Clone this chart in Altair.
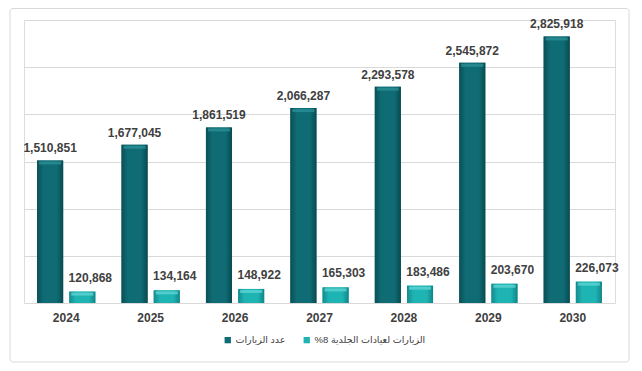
import altair as alt
import pandas as pd

years = ["2024", "2025", "2026", "2027", "2028", "2029", "2030"]
visits = [1510851, 1677045, 1861519, 2066287, 2293578, 2545872, 2825918]
derm_visits = [120868, 134164, 148922, 165303, 183486, 203670, 226073]
s_dark = "عدد الزيارات"
s_light = "%8 الزيارات لعيادات الجلدية"
series_order = [s_dark, s_light]

rows = []
for y, a, b in zip(years, visits, derm_visits):
    rows.append({"year": y, "series": s_dark, "value": a})
    rows.append({"year": y, "series": s_light, "value": b})
df = pd.DataFrame(rows)

FONT = "Liberation Sans, Arial, DejaVu Sans"
W, H = 591, 283

grad_dark = alt.Gradient(
    gradient="linear", x1=0, x2=1, y1=0, y2=0,
    stops=[alt.GradientStop(offset=0, color="#0a4f56"),
           alt.GradientStop(offset=0.25, color="#0f6c74"),
           alt.GradientStop(offset=0.75, color="#0f6c74"),
           alt.GradientStop(offset=1, color="#094a50")])
grad_light = alt.Gradient(
    gradient="linear", x1=0, x2=1, y1=0, y2=0,
    stops=[alt.GradientStop(offset=0, color="#138c8e"),
           alt.GradientStop(offset=0.25, color="#1fb4b4"),
           alt.GradientStop(offset=0.75, color="#1fb4b4"),
           alt.GradientStop(offset=1, color="#128587")])

base = alt.Chart(df).encode(
    x=alt.X("year:N", sort=years,
            scale=alt.Scale(paddingInner=0.31, paddingOuter=0.155),
            axis=alt.Axis(title=None, ticks=False, domain=False,
                          labelFont=FONT, labelFontSize=12, labelFontWeight="bold",
                          labelColor="#404040", labelPadding=9, labelAngle=0)),
    xOffset=alt.XOffset("series:N", sort=series_order,
                        scale=alt.Scale(paddingInner=0.19)),
    y=alt.Y("value:Q",
            scale=alt.Scale(domain=[0, 3000000], nice=False),
            axis=alt.Axis(title=None, labels=False, ticks=False, domain=False,
                          grid=True, gridColor="#d9d9d9", gridWidth=1,
                          values=[0, 500000, 1000000, 1500000, 2000000, 2500000, 3000000])),
)

bars_legend = base.mark_bar().encode(
    color=alt.Color("series:N", sort=series_order,
                    scale=alt.Scale(domain=series_order, range=["#0f6c74", "#1fb4b4"]),
                    legend=alt.Legend(title=None, orient="none", direction="horizontal",
                                      legendX=199, legendY=315,
                                      symbolType="square", symbolSize=40,
                                      symbolStrokeWidth=0,
                                      labelFont=FONT, labelFontSize=9.5,
                                      labelColor="#404040", labelOffset=3,
                                      columnPadding=16, labelLimit=300))
)

bars_grad = base.mark_bar().encode(
    fill=alt.condition(alt.datum.series == s_dark, alt.value(grad_dark), alt.value(grad_light))
)

bevel = base.mark_tick(thickness=3, size=22, yOffset=2.5, opacity=0.8).encode(
    color=alt.condition(alt.datum.series == s_dark, alt.value("#2a8f96"), alt.value("#5fd3d3"))
)

labels_dark = base.transform_filter(alt.datum.series == s_dark).mark_text(
    baseline="bottom", dy=-5, font=FONT, fontSize=12, fontWeight="bold", color="#404040"
).encode(text=alt.Text("value:Q", format=","))

labels_light = base.transform_filter(alt.datum.series == s_light).mark_text(
    baseline="bottom", dy=-7, dx=8, font=FONT, fontSize=12, fontWeight="bold", color="#404040"
).encode(text=alt.Text("value:Q", format=","))

border = alt.Chart(pd.DataFrame({"a": [0]})).mark_rect(
    fill="transparent", stroke="#d9d9d9", strokeWidth=1, cornerRadius=3
).encode(x=alt.value(-14), x2=alt.value(605), y=alt.value(-11.5), y2=alt.value(342))

chart = alt.layer(border, bars_legend, bars_grad, bevel, labels_dark, labels_light).properties(
    width=W, height=H,
    autosize=alt.AutoSizeParams(type="none"),
    padding={"left": 16, "top": 12, "right": 19, "bottom": 60},
).configure_view(stroke=None).configure(background="white")

chart.save("out.html", embed_options={"renderer": "svg", "actions": False})
